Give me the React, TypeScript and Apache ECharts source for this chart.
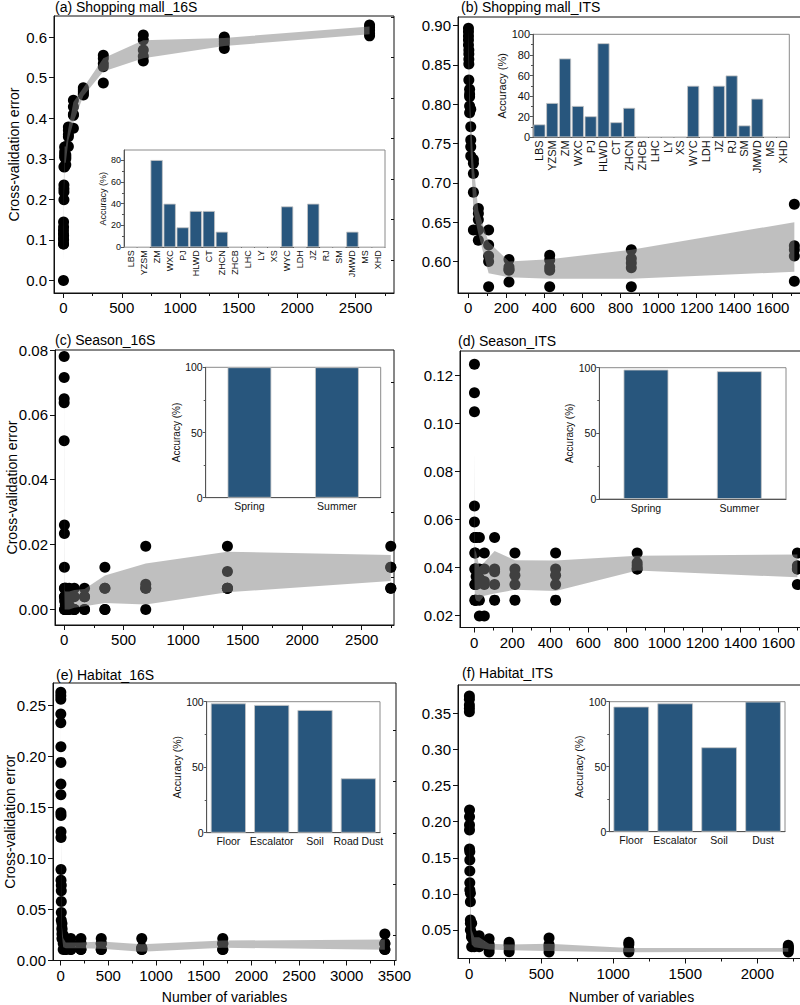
import React, { useEffect, useRef } from 'react';
import * as echarts from 'echarts';

const FONT = "'Liberation Sans', Arial, Helvetica, sans-serif";
const BAR = '#28567d';
const BAND = 'rgba(128,128,128,0.5)';

// ---------- (a) Shopping mall_16S ----------
const a_x = [1, 2, 5, 11, 21, 43, 86, 171, 342, 684, 1377, 2620];
const a_y = [
  [0.0, 0.09, 0.103, 0.115, 0.123],
  [0.09, 0.1, 0.132, 0.144, 0.11],
  [0.199, 0.218, 0.226, 0.235, 0.28],
  [0.28, 0.304, 0.317, 0.329, 0.31],
  [0.285, 0.3, 0.31, 0.33, 0.305],
  [0.33, 0.354, 0.36, 0.37, 0.378],
  [0.375, 0.407, 0.428, 0.444, 0.41],
  [0.457, 0.46, 0.47, 0.475, 0.465],
  [0.487, 0.527, 0.535, 0.547, 0.555],
  [0.541, 0.553, 0.568, 0.593, 0.605],
  [0.572, 0.583, 0.589, 0.595, 0.6],
  [0.603, 0.609, 0.617, 0.624, 0.63],
];
const a_lo = [0.05, 0.09, 0.2, 0.29, 0.29, 0.345, 0.39, 0.455, 0.515, 0.548, 0.578, 0.607];
const a_hi = [0.13, 0.14, 0.26, 0.33, 0.33, 0.375, 0.44, 0.475, 0.548, 0.592, 0.598, 0.626];

// ---------- (b) Shopping mall_ITS ----------
const b_x = [1, 3, 7, 13, 27, 53, 107, 214, 428, 857, 1714];
const b_y = [
  [0.8967, 0.8924, 0.8869, 0.8818, 0.8754],
  [0.8691, 0.864, 0.8572, 0.8512, 0.8309],
  [0.819, 0.813, 0.8096, 0.7978, 0.7893],
  [0.7936, 0.7714, 0.7545, 0.746, 0.7341],
  [0.7299, 0.725, 0.712, 0.688, 0.64],
  [0.6675, 0.661, 0.653, 0.64, 0.627],
  [0.64, 0.621, 0.607, 0.6, 0.568],
  [0.6026, 0.593, 0.589, 0.574, 0.59],
  [0.608, 0.602, 0.593, 0.589, 0.568],
  [0.615, 0.604, 0.598, 0.592, 0.568],
  [0.673, 0.62, 0.615, 0.607, 0.575],
];
const b_lo = [0.865, 0.835, 0.79, 0.735, 0.665, 0.635, 0.585, 0.58, 0.578, 0.578, 0.587];
const b_hi = [0.895, 0.87, 0.82, 0.785, 0.725, 0.665, 0.625, 0.6, 0.603, 0.615, 0.65];

// ---------- (c) Season_16S ----------
const c_x = [1, 3, 5, 11, 21, 43, 86, 172, 343, 686, 1372, 2744];
const c_y = [
  [0.078, 0.0715, 0.065, 0.0637, 0.052],
  [0.026, 0.0234, 0.013, 0.0065, 0.0039],
  [0.0065, 0.0039, 0.0026, 0.0, 0.0],
  [0.0065, 0.0039, 0.0013, 0.0, 0.0],
  [0.0065, 0.0026, 0.0013, 0.0, 0.0],
  [0.0065, 0.0039, 0.0013, 0.0, 0.0],
  [0.0065, 0.0039, 0.0, 0.0, 0.0],
  [0.0065, 0.0039, 0.0039, 0.0, 0.0],
  [0.013, 0.0065, 0.0065, 0.0, 0.0],
  [0.0195, 0.0078, 0.0065, 0.0065, 0.0],
  [0.0195, 0.0117, 0.0065, 0.0065, 0.0065],
  [0.0195, 0.013, 0.013, 0.0065, 0.0065],
];
const c_lo = [0.04, 0.005, 0.0, 0.0, 0.0, 0.0, 0.0005, 0.001, 0.002, 0.0015, 0.0053, 0.0088];
const c_hi = [0.072, 0.022, 0.006, 0.0055, 0.0055, 0.0055, 0.006, 0.0063, 0.0105, 0.0142, 0.0178, 0.0168];

// ---------- (d) Season_ITS ----------
const d_x = [1, 3, 5, 10, 27, 53, 107, 214, 428, 857, 1700];
const d_y = [
  [0.1245, 0.1126, 0.1047, 0.0654, 0.0588],
  [0.0523, 0.0458, 0.0392, 0.0327, 0.0262],
  [0.0523, 0.0458, 0.0392, 0.0327, 0.0262],
  [0.0523, 0.0392, 0.0361, 0.0327, 0.0262],
  [0.0523, 0.0392, 0.0353, 0.0262, 0.0196],
  [0.0458, 0.0392, 0.034, 0.0327, 0.0196],
  [0.0523, 0.0392, 0.038, 0.0327, 0.0262],
  [0.0458, 0.0392, 0.0366, 0.0327, 0.0262],
  [0.0458, 0.0392, 0.0366, 0.0327, 0.0262],
  [0.0458, 0.0418, 0.0405, 0.0392, 0.0392],
  [0.0458, 0.0405, 0.0392, 0.0392, 0.0327],
];
const d_lo = [0.035, 0.028, 0.027, 0.026, 0.0255, 0.028, 0.029, 0.0305, 0.03, 0.0385, 0.0357];
const d_hi = [0.09, 0.05, 0.047, 0.046, 0.04, 0.042, 0.0467, 0.0428, 0.0427, 0.0447, 0.0452];

// ---------- (e) Habitat_16S ----------
const e_x = [1, 2, 3, 6, 13, 26, 53, 106, 212, 425, 850, 1700, 3400];
const e_y = [
  [0.2625, 0.259, 0.2556, 0.2412, 0.2327],
  [0.2092, 0.1939, 0.1727, 0.1622, 0.1446],
  [0.142, 0.126, 0.1205, 0.0891, 0.0786],
  [0.0737, 0.0682, 0.0578, 0.047, 0.0395],
  [0.0362, 0.0319, 0.0215, 0.026, 0.03],
  [0.0215, 0.0166, 0.0108, 0.02, 0.025],
  [0.0215, 0.0166, 0.0108, 0.0108, 0.0166],
  [0.0215, 0.0166, 0.0108, 0.0108, 0.0166],
  [0.0215, 0.0166, 0.0108, 0.0166, 0.0108],
  [0.0215, 0.0166, 0.0108, 0.0166, 0.0108],
  [0.0215, 0.0125, 0.0108, 0.0108, 0.0125],
  [0.0215, 0.0166, 0.0108, 0.0166, 0.0108],
  [0.026, 0.0166, 0.0108, 0.0166, 0.0108],
];
const e_lo = [0.24, 0.15, 0.09, 0.045, 0.024, 0.013, 0.012, 0.012, 0.012, 0.0115, 0.0085, 0.0125, 0.0105];
const e_hi = [0.26, 0.2, 0.13, 0.07, 0.033, 0.022, 0.0175, 0.0175, 0.0175, 0.0185, 0.016, 0.0195, 0.0205];

// ---------- (f) Habitat_ITS ----------
const f_x = [1, 2, 4, 8, 17, 35, 69, 138, 277, 554, 1108, 2215];
const f_y = [
  [0.374, 0.3694, 0.3615, 0.357, 0.3522],
  [0.2161, 0.2068, 0.1953, 0.1884, 0.1621],
  [0.1584, 0.1469, 0.1316, 0.1155, 0.1053],
  [0.1008, 0.0892, 0.0638, 0.0592, 0.05],
  [0.0592, 0.045, 0.0407, 0.0268, 0.04],
  [0.042, 0.035, 0.03, 0.0268, 0.04],
  [0.042, 0.037, 0.032, 0.0268, 0.03],
  [0.038, 0.0275, 0.0195, 0.024, 0.03],
  [0.033, 0.028, 0.024, 0.02, 0.03],
  [0.039, 0.0275, 0.0195, 0.024, 0.03],
  [0.033, 0.023, 0.0195, 0.022, 0.03],
  [0.029, 0.026, 0.023, 0.0195, 0.025],
];
const f_lo = [0.35, 0.16, 0.1, 0.05, 0.03, 0.026, 0.025, 0.023, 0.022, 0.021, 0.019, 0.02];
const f_hi = [0.37, 0.21, 0.15, 0.09, 0.05, 0.04, 0.04, 0.031, 0.03, 0.031, 0.025, 0.025];

// ---------- insets ----------
const mallCats = ['LBS', 'YZSM', 'ZM', 'WXC', 'PJ', 'HLWD', 'CT', 'ZHCN', 'ZHCB', 'LHC', 'LY', 'XS', 'WYC', 'LDH', 'JZ', 'RJ', 'SM', 'JMWD', 'MS', 'XHD'];
const mall16SAcc = [0, 0, 80, 40, 18.3, 33.3, 33.3, 14.3, 0, 0, 0, 0, 37.5, 0, 40, 0, 0, 14.3, 0, 0];
const mallITSAcc = [12.5, 33.3, 76.5, 30.4, 20.4, 91.3, 14.6, 28.6, 0, 0, 0, 0, 50, 0, 50, 60, 11.5, 37.5, 0, 0];
const seasonCats = ['Spring', 'Summer'];
const season16SAcc = [100, 100];
const seasonITSAcc = [98.5, 97.3];
const habitat16SCats = ['Floor', 'Escalator', 'Soil', 'Road Dust'];
const habitat16SAcc = [98.7, 97.5, 93.6, 41.5];
const habitatITSCats = ['Floor', 'Escalator', 'Soil', 'Dust'];
const habitatITSAcc = [96.2, 98.7, 64.9, 100];

// ---------- tick labels ----------
const xTicks2500 = [0, 500, 1000, 1500, 2000, 2500];
const xMinor2500 = [250, 750, 1250, 1750, 2250, 2750];
const xTicks1600 = [0, 200, 400, 600, 800, 1000, 1200, 1400, 1600];
const xMinor1600 = [100, 300, 500, 700, 900, 1100, 1300, 1500, 1700];
const xTicks3500 = [0, 500, 1000, 1500, 2000, 2500, 3000, 3500];
const xMinor3500 = [250, 750, 1250, 1750, 2250, 2750, 3250];
const xTicks2000 = [0, 500, 1000, 1500, 2000];
const xMinor2000 = [250, 750, 1250, 1750, 2250];
const yTicksA = [0, 0.1, 0.2, 0.3, 0.4, 0.5, 0.6];
const yMinorA = [0.05, 0.15, 0.25, 0.35, 0.45, 0.55, 0.65];
const yTicksB = [0.6, 0.65, 0.7, 0.75, 0.8, 0.85, 0.9];
const yMinorB = [0.575, 0.625, 0.675, 0.725, 0.775, 0.825, 0.875];
const yTicksC = [0, 0.02, 0.04, 0.06, 0.08];
const yMinorC = [0.01, 0.03, 0.05, 0.07];
const yTicksD = [0.02, 0.04, 0.06, 0.08, 0.1, 0.12];
const yMinorD = [0.03, 0.05, 0.07, 0.09, 0.11];
const yTicksE = [0, 0.05, 0.1, 0.15, 0.2, 0.25];
const yMinorE = [0.025, 0.075, 0.125, 0.175, 0.225];
const yTicksF = [0.05, 0.1, 0.15, 0.2, 0.25, 0.3, 0.35];
const yMinorF = [0.025, 0.075, 0.125, 0.175, 0.225, 0.275, 0.325, 0.375];
const acc80 = [0, 20, 40, 60, 80];
const acc80Minor = [10, 30, 50, 70];
const acc100 = [0, 20, 40, 60, 80, 100];
const acc100Minor = [10, 30, 50, 70, 90];
const acc50 = [0, 50, 100];
const acc50Minor = [25, 75];

type Panel = {
  title: string; tl: [number, number];
  box: [number, number, number, number];
  xr: [number, number]; yr: [number, number];
  xT: number[]; xM: number[]; yT: number[]; yM: number[]; dec: number;
  xs: number[]; ys: number[][]; lo: number[]; hi: number[];
  yNameGap?: number; xNameGap?: number;
};

const panels: Panel[] = [
  { title: '(a) Shopping mall_16S', tl: [55, 0], box: [54, 16, 394, 293], xr: [-80, 2829], yr: [-0.031, 0.652],
    xT: xTicks2500, xM: xMinor2500, yT: yTicksA, yM: yMinorA, dec: 1, xs: a_x, ys: a_y, lo: a_lo, hi: a_hi, yNameGap: 33 },
  { title: '(b) Shopping mall_ITS', tl: [461, 0], box: [458, 17, 805, 293], xr: [-54, 1770], yr: [0.56, 0.911],
    xT: xTicks1600, xM: xMinor1600, yT: yTicksB, yM: yMinorB, dec: 2, xs: b_x, ys: b_y, lo: b_lo, hi: b_hi },
  { title: '(c) Season_16S', tl: [55, 333], box: [55, 350, 394, 625], xr: [-76, 2771], yr: [-0.0048, 0.08],
    xT: xTicks2500, xM: xMinor2500, yT: yTicksC, yM: yMinorC, dec: 2, xs: c_x, ys: c_y, lo: c_lo, hi: c_hi, yNameGap: 36 },
  { title: '(d) Season_ITS', tl: [458, 334], box: [460, 351, 805, 627.5], xr: [-75, 1740], yr: [0.0148, 0.13],
    xT: xTicks1600, xM: xMinor1600, yT: yTicksD, yM: yMinorD, dec: 2, xs: d_x, ys: d_y, lo: d_lo, hi: d_hi },
  { title: '(e) Habitat_16S', tl: [56, 668], box: [53, 683, 396, 960.5], xr: [-81, 3517], yr: [0, 0.2716],
    xT: xTicks3500, xM: xMinor3500, yT: yTicksE, yM: yMinorE, dec: 2, xs: e_x, ys: e_y, lo: e_lo, hi: e_hi, yNameGap: 36, xNameGap: 29 },
  { title: '(f) Habitat_ITS', tl: [462, 666], box: [458, 685, 805, 958.5], xr: [-78, 2331], yr: [0.0105, 0.3892],
    xT: xTicks2000, xM: xMinor2000, yT: yTicksF, yM: yMinorF, dec: 2, xs: f_x, ys: f_y, lo: f_lo, hi: f_hi, xNameGap: 31 },
];

type Inset = {
  box: [number, number, number, number]; cats: string[]; vals: number[]; ymax: number;
  yT: number[]; yM: number[]; font: number; nameFont: number; rotate: number; gap: string; nameGap: number;
};

const insets: Inset[] = [
  { box: [124, 150, 385, 247.3], cats: mallCats, vals: mall16SAcc, ymax: 89.2, yT: acc80, yM: acc80Minor, font: 9, nameFont: 9, rotate: 90, gap: '6%', nameGap: 15 },
  { box: [533, 34.3, 789.3, 137.3], cats: mallCats, vals: mallITSAcc, ymax: 100, yT: acc100, yM: acc100Minor, font: 11, nameFont: 11, rotate: 90, gap: '6%', nameGap: 22 },
  { box: [205.7, 367.3, 380.7, 497.7], cats: seasonCats, vals: season16SAcc, ymax: 100, yT: acc50, yM: acc50Minor, font: 10.5, nameFont: 10, rotate: 0, gap: '50%', nameGap: 22 },
  { box: [599.3, 367.7, 786, 499], cats: seasonCats, vals: seasonITSAcc, ymax: 100, yT: acc50, yM: acc50Minor, font: 10.5, nameFont: 10, rotate: 0, gap: '52%', nameGap: 14 },
  { box: [206.7, 701.7, 380, 832.7], cats: habitat16SCats, vals: habitat16SAcc, ymax: 100, yT: acc50, yM: acc50Minor, font: 10.5, nameFont: 10.5, rotate: 0, gap: '19%', nameGap: 22 },
  { box: [609.3, 701.7, 785, 831.7], cats: habitatITSCats, vals: habitatITSAcc, ymax: 100, yT: acc50, yM: acc50Minor, font: 10.5, nameFont: 10.5, rotate: 0, gap: '19%', nameGap: 22 },
];

function buildOption() {
  const grids: any[] = [];
  const xAxes: any[] = [];
  const yAxes: any[] = [];
  const series: any[] = [];
  const titles: any[] = [];
  const ink = '#111';

  // minor ticks: an extra axis placed on the opposite side, shifted onto the main
  // axis line with a negative offset, with ticks pointing "inside" (= outward here)
  const minorX = (gi: number, min: number, max: number, vals: number[], h: number, len: number, color: string) => ({
    type: 'value', gridIndex: gi, min, max, position: 'top', offset: -h,
    axisLine: { show: false },
    axisTick: { show: true, inside: true, length: len, customValues: vals, lineStyle: { color } },
    axisLabel: { show: false }, splitLine: { show: false },
  });
  const minorY = (gi: number, min: number, max: number, vals: number[], w: number, len: number, color: string) => ({
    type: 'value', gridIndex: gi, min, max, position: 'right', offset: -w,
    axisLine: { show: false },
    axisTick: { show: true, inside: true, length: len, customValues: vals, lineStyle: { color } },
    axisLabel: { show: false }, splitLine: { show: false },
  });

  panels.forEach((p) => {
    const gi = grids.length;
    const w = p.box[2] - p.box[0];
    const h = p.box[3] - p.box[1];
    grids.push({
      left: p.box[0], top: p.box[1], width: w, height: h,
      show: true, borderColor: ink, borderWidth: 1, backgroundColor: 'transparent',
      containLabel: false, outerBoundsMode: 'none',
    });
    titles.push({
      text: p.title, left: p.tl[0], top: p.tl[1], padding: 0,
      textStyle: { fontSize: 14, fontWeight: 'normal', color: '#000', fontFamily: FONT },
    });
    const xi = xAxes.length;
    xAxes.push({
      type: 'value', gridIndex: gi, min: p.xr[0], max: p.xr[1], position: 'bottom', offset: 0,
      axisLine: { show: true, onZero: false, lineStyle: { color: ink, width: 1 } },
      axisTick: { show: true, inside: false, length: 5, customValues: p.xT, lineStyle: { color: ink } },
      axisLabel: { show: true, customValues: p.xT, fontSize: 15, color: '#000', fontFamily: FONT, margin: 7,
        formatter: (v: number) => String(Math.round(v)) },
      splitLine: { show: false },
      name: p.xNameGap ? 'Number of variables' : '', nameLocation: 'middle', nameGap: p.xNameGap || 0,
      nameMoveOverlap: false,
      nameTextStyle: { fontSize: 14, color: '#000', fontFamily: FONT },
    });
    xAxes.push(minorX(gi, p.xr[0], p.xr[1], p.xM, h, 3, ink));
    const yi = yAxes.length;
    yAxes.push({
      type: 'value', gridIndex: gi, min: p.yr[0], max: p.yr[1], position: 'left', offset: 0,
      axisLine: { show: true, onZero: false, lineStyle: { color: ink, width: 1 } },
      axisTick: { show: true, inside: false, length: 5, customValues: p.yT, lineStyle: { color: ink } },
      axisLabel: { show: true, customValues: p.yT, fontSize: 15, color: '#000', fontFamily: FONT, margin: 7,
        formatter: (v: number) => v.toFixed(p.dec) },
      splitLine: { show: false },
      name: p.yNameGap ? 'Cross-validation error' : '', nameLocation: 'middle', nameGap: p.yNameGap || 0,
      nameMoveOverlap: false,
      nameTextStyle: { fontSize: 14, color: '#000', fontFamily: FONT },
    });
    yAxes.push(minorY(gi, p.yr[0], p.yr[1], p.yM, w, 3, ink));

    const pts: number[][] = [];
    p.xs.forEach((x, i) => p.ys[i].forEach((y) => pts.push([x, y])));
    series.push({
      type: 'scatter', xAxisIndex: xi, yAxisIndex: yi, symbol: 'circle', symbolSize: 11,
      itemStyle: { color: '#000', opacity: 1 }, data: pts, z: 2, silent: true, clip: true,
    });
    series.push({
      type: 'custom', xAxisIndex: xi, yAxisIndex: yi, z: 3, silent: true, clip: true,
      data: p.xs.map((x, i) => [x, p.lo[i], p.hi[i]]),
      encode: { x: 0, y: [1, 2] },
      renderItem: (params: any, api: any) => {
        if (params.dataIndex !== 0) return null;
        const top = p.xs.map((x, i) => api.coord([x, p.hi[i]]));
        const bot = p.xs.map((x, i) => api.coord([x, p.lo[i]])).reverse();
        return { type: 'polygon', shape: { points: top.concat(bot) }, style: { fill: BAND, stroke: 'none' } };
      },
    });
  });

  insets.forEach((s) => {
    const gi = grids.length;
    const w = s.box[2] - s.box[0];
    const h = s.box[3] - s.box[1];
    grids.push({
      left: s.box[0], top: s.box[1], width: w, height: h,
      show: true, borderColor: '#8a8a8a', borderWidth: 1, backgroundColor: '#fff',
      containLabel: false, outerBoundsMode: 'none',
    });
    const xi = xAxes.length;
    xAxes.push({
      type: 'category', gridIndex: gi, data: s.cats, position: 'bottom', offset: 0,
      axisLine: { show: true, lineStyle: { color: '#555' } },
      axisTick: { show: false },
      axisLabel: { interval: 0, rotate: s.rotate, fontSize: s.font, color: '#111', fontFamily: FONT, margin: 3 },
      splitLine: { show: false },
    });
    const yi = yAxes.length;
    yAxes.push({
      type: 'value', gridIndex: gi, min: 0, max: s.ymax, position: 'left', offset: 0,
      axisLine: { show: true, lineStyle: { color: '#555' } },
      axisTick: { show: true, inside: false, length: 3, customValues: s.yT, lineStyle: { color: '#555' } },
      axisLabel: { show: true, customValues: s.yT, fontSize: s.font, color: '#111', fontFamily: FONT, margin: 3 },
      splitLine: { show: false },
      name: 'Accuracy (%)', nameLocation: 'middle', nameGap: s.nameGap,
      nameTextStyle: { fontSize: s.nameFont, color: '#111', fontFamily: FONT },
    });
    yAxes.push(minorY(gi, 0, s.ymax, s.yM, w, 2, '#555'));
    series.push({
      type: 'bar', xAxisIndex: xi, yAxisIndex: yi, data: s.vals, barCategoryGap: s.gap,
      itemStyle: { color: BAR, borderColor: '#c4c4c4', borderWidth: 0.8 }, silent: true, z: 5,
    });
  });

  return {
    animation: false,
    backgroundColor: '#fff',
    textStyle: { fontFamily: FONT },
    title: titles,
    grid: grids,
    xAxis: xAxes,
    yAxis: yAxes,
    series,
  };
}

export default function App() {
  const ref = useRef<HTMLDivElement>(null);
  useEffect(() => {
    if (!ref.current) return;
    const chart = echarts.init(ref.current, null, { renderer: 'svg' });
    chart.setOption(buildOption() as any);
    return () => chart.dispose();
  }, []);
  return (
    <div
      ref={ref}
      style={{ position: 'absolute', left: 0, top: 0, width: 800, height: 1005, background: '#fff' }}
    />
  );
}
